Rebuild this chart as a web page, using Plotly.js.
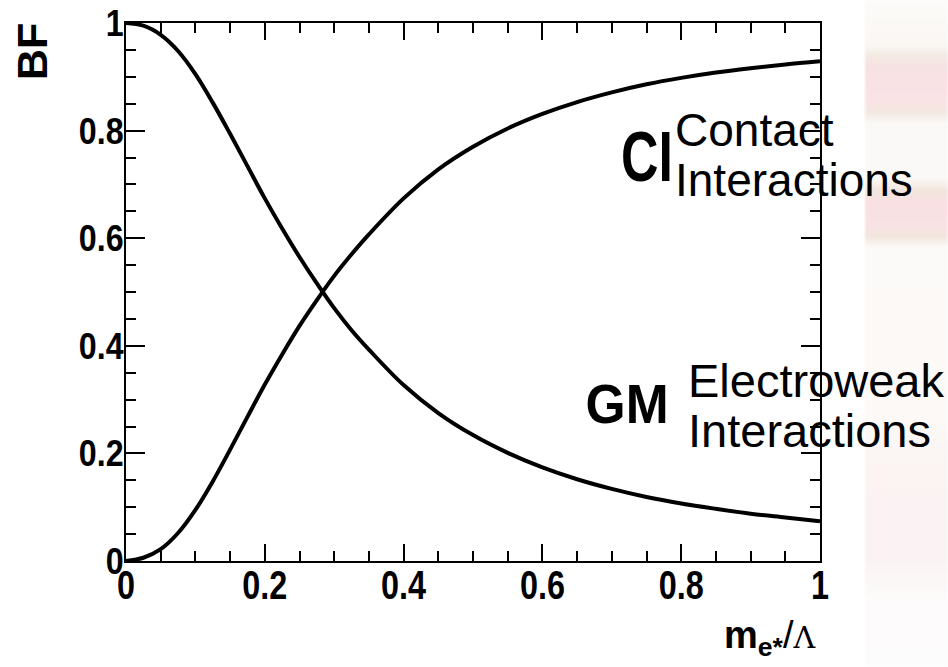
<!DOCTYPE html>
<html>
<head>
<meta charset="utf-8">
<script src="https://cdn.plot.ly/plotly-3.0.1.min.js"></script>
<style>
  html, body { margin: 0; padding: 0; background: #ffffff; }
  #wrap { position: relative; width: 948px; height: 667px; overflow: hidden; }
  #strip {
    position: absolute; left: 865px; top: 0; width: 83px; height: 667px;
    background: linear-gradient(to bottom,
      #fdfbf9 0px, #faf7f4 45px, #f3ebe3 55px, #f7e2e3 66px, #fae3e6 100px,
      #f3e8e0 112px, #fbf9f7 124px, #fbf9f8 178px, #f2e6dc 190px, #f8e0e3 202px,
      #f9e2e4 226px, #f2e6dd 236px, #fcfaf8 248px, #fcf9f7 420px, #fbf4f3 470px,
      #fbf3f3 560px, #fdfbfb 600px, #fdfcfc 667px);
    filter: blur(1px);
  }
  #chart { position: absolute; left: 0; top: 0; width: 948px; height: 667px; }
</style>
</head>
<body>
<div id="wrap">
  <div id="strip"></div>
  <div id="chart"></div>
</div>
<script>
// Branching fraction versus m_e*/Lambda
const xValues = [0, 0.025, 0.05, 0.075, 0.10, 0.125, 0.15, 0.175, 0.20, 0.225, 0.25, 0.275,
                 0.30, 0.325, 0.35, 0.40, 0.45, 0.50, 0.55, 0.60, 0.65, 0.70, 0.75, 0.80,
                 0.85, 0.90, 0.95, 1.00];
// Gauge-mediated (electroweak) decays
const gmValues = [1.000, 0.995, 0.978, 0.948, 0.905, 0.852, 0.794, 0.734, 0.674, 0.618, 0.565, 0.516,
                  0.470, 0.429, 0.393, 0.327, 0.275, 0.234, 0.201, 0.174, 0.152, 0.134, 0.119, 0.107,
                  0.097, 0.088, 0.081, 0.074];
// Contact-interaction decays
const ciValues = [0.000, 0.006, 0.022, 0.052, 0.095, 0.148, 0.207, 0.268, 0.328, 0.384, 0.437, 0.485,
                  0.530, 0.570, 0.607, 0.674, 0.728, 0.770, 0.804, 0.831, 0.853, 0.871, 0.886, 0.898,
                  0.908, 0.916, 0.923, 0.929];
const xTickValues = [0, 0.2, 0.4, 0.6, 0.8, 1];
const yTickValues = [0, 0.2, 0.4, 0.6, 0.8, 1];
const xTickText = ['0', '0.2', '0.4', '0.6', '0.8', '1'];
const yTickText = ['0', '0.2', '0.4', '0.6', '0.8', '1'];

const sans = '"Liberation Sans", Arial, sans-serif';

const curve = { color: '#000000', width: 4, shape: 'spline', smoothing: 1 };

const traces = [
  { x: xValues, y: gmValues, type: 'scatter', mode: 'lines', name: 'GM', line: curve, hoverinfo: 'skip' },
  { x: xValues, y: ciValues, type: 'scatter', mode: 'lines', name: 'CI', line: curve, hoverinfo: 'skip' }
];

const axisCommon = {
  range: [0, 1],
  showgrid: false,
  zeroline: false,
  showline: true,
  linecolor: '#000000',
  linewidth: 2,
  mirror: 'ticks',
  ticks: 'inside',
  tickwidth: 2,
  tickcolor: '#000000',
  tickmode: 'array',
  minor: { dtick: 0.05, tick0: 0, ticks: 'inside', ticklen: 10, tickwidth: 2, tickcolor: '#000000', showgrid: false }
};

const layout = {
  width: 948,
  height: 667,
  margin: { l: 126, r: 128, t: 23, b: 106 },
  paper_bgcolor: 'rgba(0,0,0,0)',
  plot_bgcolor: '#ffffff',
  showlegend: false,
  xaxis: Object.assign({}, axisCommon, {
    tickvals: xTickValues, ticktext: xTickText, ticklen: 17, ticklabelstandoff: -12,
    tickfont: { family: sans, size: 40, color: '#000000', weight: 'bold' }
  }),
  yaxis: Object.assign({}, axisCommon, {
    tickvals: yTickValues, ticktext: yTickText, ticklen: 19, ticklabelstandoff: -7,
    tickfont: { family: sans, size: 37, color: '#000000', weight: 'bold' }
  }),
  annotations: [
    { text: '<b>BF</b>', textangle: -90, xref: 'paper', yref: 'paper',
      x: -0.1354, y: 0.946, xanchor: 'center', yanchor: 'middle', showarrow: false,
      font: { family: sans, size: 43, color: '#000000' } },
    { text: '<b>m<sub>e*</sub></b>/<span style="font-size:30px;font-family:\'DejaVu Serif\',serif">Λ</span>',
      xref: 'paper', yref: 'paper', x: 0.997, y: -0.094, xanchor: 'right', yanchor: 'top', showarrow: false,
      font: { family: sans, size: 38, color: '#000000' } },
    { text: '<b>CI</b>', xref: 'paper', yref: 'paper', x: (647 - 126) / 694, y: (561 - 157) / 538,
      xanchor: 'center', yanchor: 'middle', showarrow: false, name: 'condensed',
      font: { family: sans, size: 70, color: '#000000' } },
    { text: 'Contact', xref: 'paper', yref: 'paper', x: (673 - 126) / 694, y: (561 - 130) / 538,
      xanchor: 'left', yanchor: 'middle', showarrow: false,
      font: { family: sans, size: 46, color: '#000000' } },
    { text: 'Interactions', xref: 'paper', yref: 'paper', x: (673 - 126) / 694, y: (561 - 180) / 538,
      xanchor: 'left', yanchor: 'middle', showarrow: false,
      font: { family: sans, size: 46, color: '#000000' } },
    { text: '<b>GM</b>', xref: 'paper', yref: 'paper', x: (627 - 126) / 694, y: (561 - 403) / 538,
      xanchor: 'center', yanchor: 'middle', showarrow: false,
      font: { family: sans, size: 56, color: '#000000' } },
    { text: 'Electroweak', xref: 'paper', yref: 'paper', x: (686 - 126) / 694, y: (561 - 380) / 538,
      xanchor: 'left', yanchor: 'middle', showarrow: false,
      font: { family: sans, size: 47, color: '#000000' } },
    { text: 'Interactions', xref: 'paper', yref: 'paper', x: (686 - 126) / 694, y: (561 - 430) / 538,
      xanchor: 'left', yanchor: 'middle', showarrow: false,
      font: { family: sans, size: 47, color: '#000000' } }
  ]
};

// Narrow the bold glyphs (the plot uses a condensed Helvetica look)
function condense(textEl, factor) {
  const len = textEl.getComputedTextLength();
  if (len > 0) {
    textEl.setAttribute('textLength', (len * factor).toFixed(2));
    textEl.setAttribute('lengthAdjust', 'spacingAndGlyphs');
  }
}

Plotly.newPlot('chart', traces, layout, { displayModeBar: false, staticPlot: true }).then(function (gd) {
  gd.querySelectorAll('.xtick text').forEach(function (t) { condense(t, 0.81); });
  gd.querySelectorAll('.ytick text').forEach(function (t) { condense(t, 0.87); });
  const notes = gd.querySelectorAll('.annotation-text');
  notes.forEach(function (t) {
    const s = t.textContent;
    if (s === 'CI') condense(t, 0.74);
    if (s === 'GM') condense(t, 0.92);
  });
});
</script>
</body>
</html>
